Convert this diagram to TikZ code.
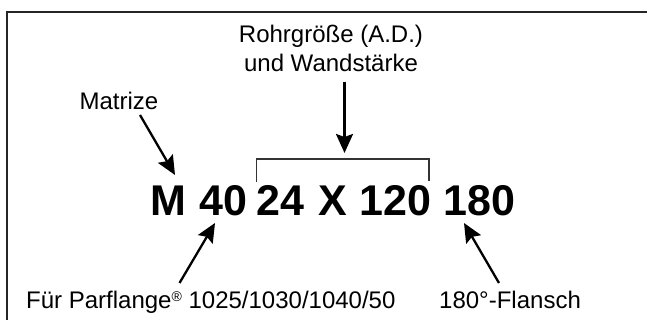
\documentclass[tikz,border=0pt]{standalone}
\usepackage{fontspec}
\setmainfont{Liberation Sans}
\usetikzlibrary{arrows.meta}
\begin{document}
\begin{tikzpicture}[x=1pt,y=-1pt,
  lbl/.style={anchor=base,inner sep=0pt,font=\fontsize{24}{28}\selectfont},
  lblw/.style={anchor=base west,inner sep=0pt,font=\fontsize{24}{28}\selectfont},
  big/.style={anchor=base west,inner sep=0pt,font=\fontsize{43}{48}\selectfont\bfseries},
  pointer/.style={line width=2.3pt,-{Stealth[length=19pt,width=17pt,inset=3pt]}},
  frameline/.style={line width=1.4pt,draw=black!85},
  bracketline/.style={line width=1.1pt,draw=black!80}]
\useasboundingbox (0,0) rectangle (647,320);
% frame
\coordinate (fb) at (7,320);
\coordinate (fc) at (7,12);
\coordinate (fr) at (647,12);
\draw[frameline] (fb) -- (fc) -- (fr);
% labels
\node[lbl] (roh) at (331,43) {Rohrgröße (A.D.)};
\node[lbl] (wand) at (331,72) {und Wandstärke};
\node[lbl] (mat) at (119,110) {Matrize};
\node[lblw] (fuer) at (26,308) {Für Parflange\raisebox{0.55ex}{\fontsize{14}{14}\selectfont ®} 1025/1030/1040/50};
\node[lblw] (fl) at (439,308) {180°-Flansch};
% big code
\node[big] (m) at (150,215) {M};
\node[big] (n40) at (199,215) {40};
\node[big] (n24) at (256.5,215) {24};
\node[big] (nx) at (318,215) {X};
\node[big] (n120) at (359,215) {120};
\node[big] (n180) at (443,215) {180};
% bracket
\coordinate (bl) at (256.5,182);
\coordinate (blt) at (256.5,159);
\coordinate (brt) at (429,159);
\coordinate (br) at (429,181);
\draw[bracketline] (bl) -- (blt) -- (brt) -- (br);
% arrow endpoints
\coordinate (a1s) at (344.5,82);
\coordinate (a1e) at (344.5,153);
\coordinate (a2s) at (140,115);
\coordinate (a2e) at (175,175);
\coordinate (a3s) at (179.5,283);
\coordinate (a3e) at (215,223);
\coordinate (a4s) at (499,283);
\coordinate (a4e) at (464,223);
\draw[pointer] (a1s) -- (a1e);
\draw[pointer] (a2s) -- (a2e);
\draw[pointer] (a3s) -- (a3e);
\draw[pointer] (a4s) -- (a4e);
\end{tikzpicture}
\end{document}
